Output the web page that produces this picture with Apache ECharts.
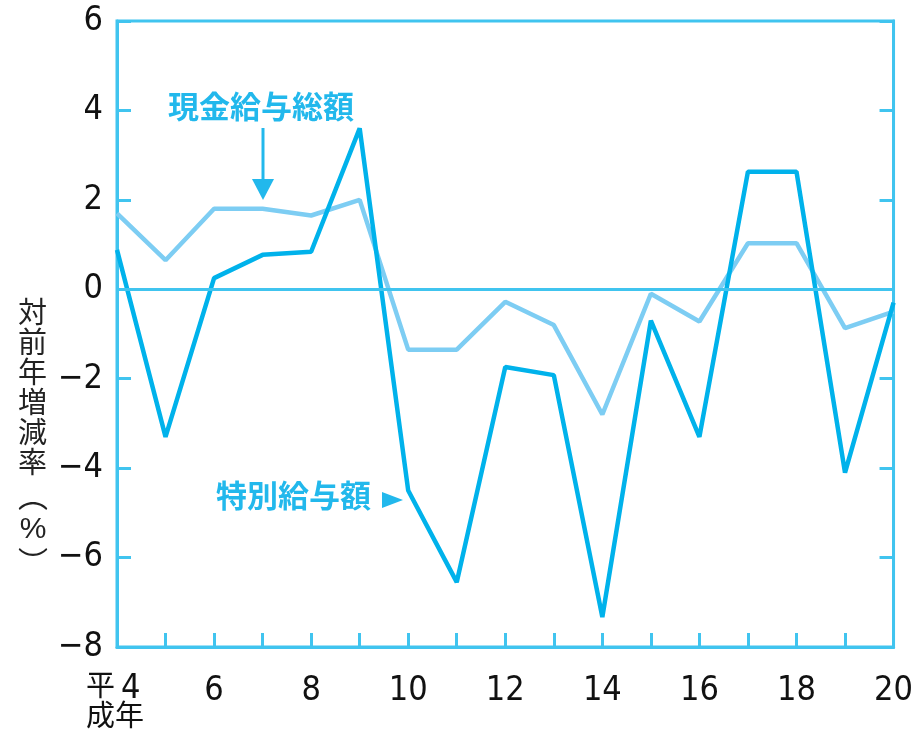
<!DOCTYPE html>
<html>
<head>
<meta charset="utf-8">
<script src="https://cdn.jsdelivr.net/npm/echarts@6/dist/echarts.min.js"></script>
<style>
html, body { margin: 0; padding: 0; background: #fff; }
#chart { width: 916px; height: 731px; }
</style>
</head>
<body>
<div id="chart"></div>
<script>
// 平成4年〜20年
const years = ['4', '5', '6', '7', '8', '9', '10', '11', '12', '13', '14', '15', '16', '17', '18', '19', '20'];
// 現金給与総額 対前年増減率(%)
const genkin = [1.7, 0.65, 1.8, 1.8, 1.65, 2.0, -1.35, -1.35, -0.28, -0.8, -2.8, -0.1, -0.72, 1.03, 1.03, -0.87, -0.5];
// 特別給与額 対前年増減率(%)
const tokubetsu = [0.88, -3.3, 0.25, 0.77, 0.84, 3.6, -4.5, -6.55, -1.74, -1.92, -7.33, -0.7, -3.3, 2.63, 2.63, -4.1, -0.3];
const yTicks = [-8, -6, -4, -2, 0, 2, 4, 6];

const frameColor = '#40c4ef';
const darkLine = '#00b2eb';
const lightLine = '#7dcdf3';
const noteColor = '#22b8ec';
const fontFam = '"Liberation Sans Narrow", "DejaVu Sans Condensed", sans-serif';
const latinFam = '"Liberation Sans", Arial, sans-serif';
const cjkFam = '"Noto Sans CJK JP", sans-serif';

const myChart = echarts.init(document.getElementById('chart'));
myChart.setOption({
    animation: false,
    grid: {
        left: 117,
        right: 17,
        top: 21,
        bottom: 84,
        show: true,
        borderColor: frameColor,
        borderWidth: 3
    },
    xAxis: {
        type: 'category',
        data: years,
        boundaryGap: false,
        axisLine: { onZero: false, lineStyle: { color: frameColor, width: 3 } },
        axisTick: { inside: true, length: 14, interval: 0, lineStyle: { color: frameColor, width: 3 } },
        axisLabel: {
            interval: 1,
            margin: 27,
            color: '#111',
            fontSize: 34,
            fontFamily: fontFam,
            formatter: (v, i) => i === 0 ? '' : v
        },
        splitLine: { show: false }
    },
    yAxis: [
        {
            type: 'value',
            min: yTicks[0],
            max: yTicks[yTicks.length - 1],
            interval: 2,
            axisLine: { show: true, lineStyle: { color: frameColor, width: 3 } },
            axisTick: { show: true, inside: true, length: 14, lineStyle: { color: frameColor, width: 3 } },
            axisLabel: {
                color: '#111',
                fontSize: 34,
                margin: 14,
                fontFamily: fontFam,
                formatter: v => String(v).replace('-', '−')
            },
            splitLine: { show: false }
        },
        {
            type: 'value',
            position: 'right',
            min: yTicks[0],
            max: yTicks[yTicks.length - 1],
            interval: 2,
            axisLine: { show: true, lineStyle: { color: frameColor, width: 3 } },
            axisTick: { show: true, inside: true, length: 14, lineStyle: { color: frameColor, width: 3 } },
            axisLabel: { show: false },
            splitLine: { show: false }
        }
    ],
    series: [
        {
            name: '現金給与総額',
            type: 'line',
            data: genkin,
            symbol: 'none',
            lineStyle: { color: lightLine, width: 4.5 },
            markLine: {
                silent: true,
                symbol: 'none',
                label: { show: false },
                lineStyle: { color: frameColor, width: 3, type: 'solid' },
                data: [{ yAxis: 0 }]
            },
            z: 3
        },
        {
            name: '特別給与額',
            type: 'line',
            data: tokubetsu,
            symbol: 'none',
            lineStyle: { color: darkLine, width: 4.5 },
            z: 4
        }
    ],
    graphic: [
        {
            type: 'text',
            left: 18,
            top: 297,
            style: {
                text: '対\n前\n年\n増\n減\n率',
                font: '29px ' + cjkFam,
                lineHeight: 30,
                fill: '#222'
            }
        },
        {
            type: 'text',
            left: 18,
            top: 481,
            style: { text: '︵', font: '30px ' + cjkFam, fill: '#222' }
        },
        {
            type: 'text',
            x: 33,
            y: 530,
            style: { text: '%', font: '30px ' + latinFam, fill: '#222', align: 'center', verticalAlign: 'middle' }
        },
        {
            type: 'text',
            left: 18,
            top: 547,
            style: { text: '︶', font: '30px ' + cjkFam, fill: '#222' }
        },
        {
            type: 'text',
            left: 86,
            top: 670,
            style: { text: '平', font: '29px ' + cjkFam, fill: '#111' }
        },
        {
            type: 'text',
            left: 121,
            top: 672,
            style: { text: '4', font: '34px ' + fontFam, fill: '#111' }
        },
        {
            type: 'text',
            left: 86,
            top: 700,
            style: { text: '成年', font: '29px ' + cjkFam, fill: '#111' }
        },
        {
            type: 'text',
            left: 168,
            top: 91,
            style: { text: '現金給与総額', font: 'bold 31px ' + cjkFam, fill: noteColor }
        },
        {
            type: 'line',
            shape: { x1: 263, y1: 128, x2: 263, y2: 182 },
            style: { stroke: noteColor, lineWidth: 3 }
        },
        {
            type: 'polygon',
            shape: { points: [[252, 179], [274, 179], [263, 200]] },
            style: { fill: noteColor }
        },
        {
            type: 'text',
            left: 216,
            top: 480,
            style: { text: '特別給与額', font: 'bold 31px ' + cjkFam, fill: noteColor }
        },
        {
            type: 'polygon',
            shape: { points: [[382, 492], [382, 508], [403, 500]] },
            style: { fill: noteColor }
        }
    ]
});
</script>
</body>
</html>
